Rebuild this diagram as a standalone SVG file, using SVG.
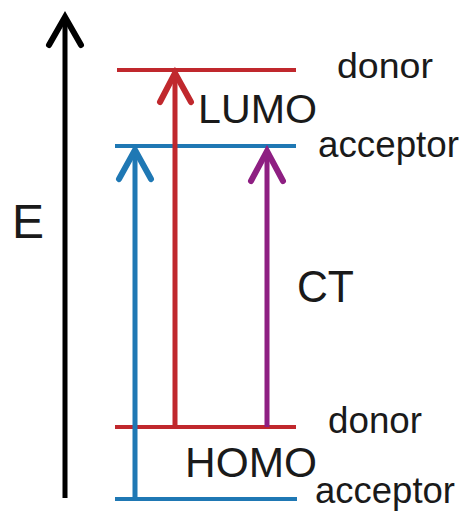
<svg xmlns="http://www.w3.org/2000/svg" width="464" height="516" viewBox="0 0 464 516">
<style>
text{font-family:"Liberation Sans",Arial,sans-serif;fill:#1a1a1a}
.lvl{stroke-width:4;fill:none}
.red{stroke:#c0282d}
.blue{stroke:#1f78b4}
.pur{stroke:#8e1f82}
.shaft{stroke-width:5;fill:none}
.head{stroke-width:6;fill:none;stroke-linecap:round;stroke-linejoin:miter}
</style>
<rect width="464" height="516" fill="#fff"/>
<g id="axis">
<line x1="65" y1="498" x2="65" y2="18" stroke="#000" stroke-width="5"/>
<polyline points="49,45 65,17 81,45" stroke="#000" class="head"/>
<text x="12" y="238" font-size="48">E</text>
</g>
<g id="lumo-donor">
<line x1="117" y1="70" x2="296" y2="70" class="lvl red"/>
<text x="337" y="78" font-size="35" textLength="96" lengthAdjust="spacingAndGlyphs">donor</text>
</g>
<g id="lumo-acceptor">
<line x1="115" y1="146" x2="296" y2="146" class="lvl blue"/>
<text x="318" y="157" font-size="37" textLength="141" lengthAdjust="spacingAndGlyphs">acceptor</text>
</g>
<g id="homo-donor">
<line x1="115" y1="427" x2="296" y2="427" class="lvl red"/>
<text x="328" y="433" font-size="36" textLength="94" lengthAdjust="spacingAndGlyphs">donor</text>
</g>
<g id="homo-acceptor">
<line x1="115" y1="499" x2="297" y2="499" class="lvl blue"/>
<text x="315" y="503" font-size="37" textLength="140" lengthAdjust="spacingAndGlyphs">acceptor</text>
</g>
<g id="labels">
<text x="198" y="123" font-size="41" textLength="119" lengthAdjust="spacingAndGlyphs">LUMO</text>
<text x="297" y="302" font-size="45" textLength="57" lengthAdjust="spacingAndGlyphs">CT</text>
<text x="185" y="477" font-size="43" textLength="132" lengthAdjust="spacingAndGlyphs">HOMO</text>
</g>
<g id="connectors">
<line x1="175" y1="427" x2="175" y2="74" class="shaft red"/>
<polyline points="160,102 175,73 191,102" class="head red"/>
<line x1="135" y1="499" x2="135" y2="152" class="shaft blue"/>
<polyline points="119,179 135,150 151,179" class="head blue"/>
<line x1="267" y1="427" x2="267" y2="152" class="shaft pur"/>
<polyline points="251,181 267,151 283,181" class="head pur"/>
</g>
</svg>
